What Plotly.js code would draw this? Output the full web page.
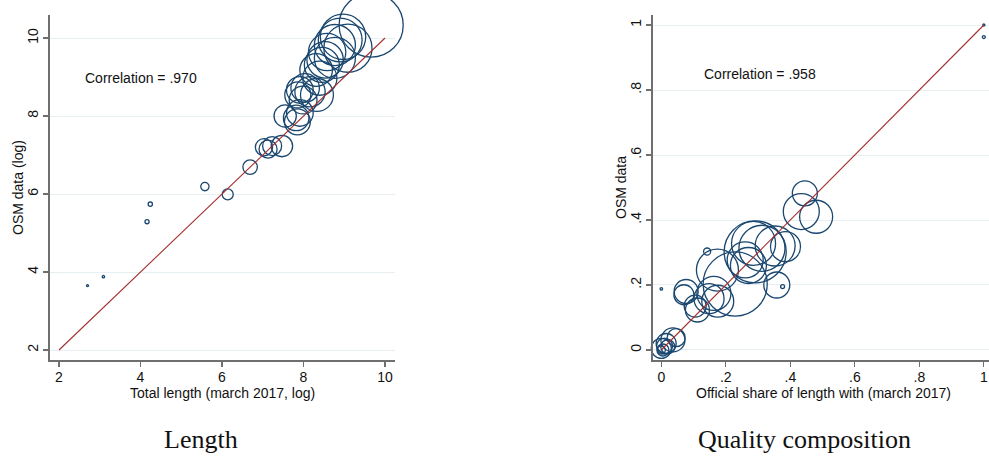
<!DOCTYPE html>
<html>
<head>
<meta charset="utf-8">
<script src="https://cdn.plot.ly/plotly-3.0.1.min.js"></script>
<style>
  html, body { margin: 0; padding: 0; background: #fff; overflow: hidden; }
  #chart { width: 989px; height: 457px; }
</style>
</head>
<body>
<div id="chart"></div>
<script>
// ---- Panel 1: network length, official vs OSM (both in logs) ----
const lengthOfficialLog = [2.70, 3.09, 4.16, 4.24, 5.58, 6.14, 6.69, 7.03, 7.13, 7.23,
  7.47, 7.55, 7.82, 7.85, 7.91, 7.91, 8.04, 7.86, 8.16, 8.33,
  7.99, 8.31, 8.45, 8.53, 8.40, 8.77, 8.58, 8.77, 8.90, 8.97,
  9.09, 9.66];
const lengthOsmLog = [3.65, 3.88, 5.29, 5.74, 6.19, 5.99, 6.69, 7.20, 7.15, 7.23,
  7.23, 8.00, 7.95, 7.85, 8.08, 8.67, 8.72, 8.54, 8.62, 8.54,
  8.41, 9.18, 9.31, 9.44, 8.97, 9.49, 9.64, 9.82, 9.95, 10.03,
  9.74, 10.33];
const lengthFitX = [2, 10];
const lengthFitY = [2, 10];
const lengthCorr = ".970";

// ---- Panel 2: quality composition (shares of length) ----
const qualityOfficial = [0.445, 0.434, 0.480, 0.291, 0.286, 0.312, 0.353, 0.385, 0.260, 0.270,
  0.358, 0.376, 0.142, 0.174, 0.229, 0.163, 0.148, 0.175, 0.077, 0.070,
  0.112, 0.105, 0.000, 0.000, 0.015, 0.036, 0.046, 0.005, 0.010, 0.020,
  0.000, 1.000, 1.000];
const qualityOsm = [0.482, 0.426, 0.410, 0.302, 0.328, 0.313, 0.320, 0.318, 0.277, 0.260,
  0.200, 0.195, 0.303, 0.246, 0.203, 0.174, 0.158, 0.150, 0.180, 0.170,
  0.123, 0.135, 0.188, 0.005, 0.020, 0.031, 0.038, 0.000, 0.012, 0.010,
  0.000, 0.963, 1.000];
// network length behind each share, thousand km (bubble weight)
const qualityWeight = [2.39, 4.95, 4.16, 14.7, 7.40, 8.10, 6.10, 3.44, 4.95, 4.95,
  2.58, 0.06, 0.19, 6.75, 15.7, 4.42, 3.44, 3.90, 2.20, 1.53,
  2.20, 1.85, 0.022, 1.53, 1.53, 2.20, 1.24, 0.55, 0.98, 0.75,
  0.245, 0.034, 0.015];
const qualityFitX = [0, 1];
const qualityFitY = [0, 1];
const qualityCorr = ".958";

const xTicksLen = [2, 4, 6, 8, 10];
const yTicksLen = [2, 4, 6, 8, 10];
const shareTicks = [0, 0.2, 0.4, 0.6, 0.8, 1];
const shareTickText = ["0", ".2", ".4", ".6", ".8", "1"];

// ---- styling ----
const W = 989, H = 457;
const navy = "#1a476f";
const fitRed = "#a3302f";
const axisGray = "#6f6f6f";
const gridCol = "#e7eff2";
const sans = "Liberation Sans, Arial, Helvetica, sans-serif";
const serif = "Liberation Serif, Times New Roman, serif";
const txt = 14;

// bubble area proportional to length (thousand km)
const refWeight = 15.65, refRadius = 32;
const diam = w => 2 * refRadius * Math.sqrt(w / refWeight);
const lengthWeight = lengthOfficialLog.map(v => Math.exp(v) / 1000);

const bubbleMarker = ws => ({
  symbol: "circle",
  size: ws.map(diam),
  sizemode: "diameter",
  opacity: 1,
  color: "rgba(0,0,0,0)",
  line: { color: navy, width: 1.3 }
});

const traces = [
  { type: "scatter", mode: "markers", x: lengthOfficialLog, y: lengthOsmLog,
    marker: bubbleMarker(lengthWeight), cliponaxis: false, xaxis: "x", yaxis: "y" },
  { type: "scatter", mode: "lines", x: lengthFitX, y: lengthFitY,
    line: { color: fitRed, width: 1.1 }, xaxis: "x", yaxis: "y" },
  { type: "scatter", mode: "markers", x: qualityOfficial, y: qualityOsm,
    marker: bubbleMarker(qualityWeight), cliponaxis: false, xaxis: "x2", yaxis: "y2" },
  { type: "scatter", mode: "lines", x: qualityFitX, y: qualityFitY,
    line: { color: fitRed, width: 1.1 }, xaxis: "x2", yaxis: "y2" }
];

const px = p => p / W;
const py = p => 1 - p / H;
const yDomain = [1 - 360 / H, 1 - 15 / H];

const axisBase = {
  showline: true, linecolor: axisGray, linewidth: 1.8,
  ticks: "outside", ticklen: 5, tickwidth: 1.3, tickcolor: axisGray,
  zeroline: false, fixedrange: true,
  tickfont: { family: sans, size: txt, color: "#111" }
};

const note = (text, x, y, extra) => Object.assign({
  text: text, xref: "paper", yref: "paper", x: px(x), y: py(y),
  xanchor: "center", yanchor: "middle", showarrow: false,
  font: { family: sans, size: txt, color: "#111" }
}, extra || {});

const layout = {
  width: W, height: H,
  margin: { l: 0, r: 0, t: 0, b: 0 },
  paper_bgcolor: "#fff", plot_bgcolor: "#fff",
  showlegend: false,
  xaxis: Object.assign({}, axisBase, {
    domain: [px(50), px(395)], range: [1.779, 10.245],
    tickvals: xTicksLen, showgrid: false, anchor: "y", ticklabelstandoff: -2
  }),
  yaxis: Object.assign({}, axisBase, {
    domain: yDomain, range: [1.744, 10.59],
    tickvals: yTicksLen, tickangle: -90,
    showgrid: true, gridcolor: gridCol, gridwidth: 1, anchor: "x"
  }),
  xaxis2: Object.assign({}, axisBase, {
    domain: [px(653), 1], range: [-0.0258, 1.016],
    tickvals: shareTicks, ticktext: shareTickText, showgrid: false, anchor: "y2",
    ticklabelstandoff: -2, ticklabeloverflow: "allow"
  }),
  yaxis2: Object.assign({}, axisBase, {
    domain: yDomain, range: [-0.0308, 1.0308],
    tickvals: shareTicks, ticktext: shareTickText, tickangle: -90,
    showgrid: true, gridcolor: gridCol, gridwidth: 1, anchor: "x2"
  }),
  annotations: [
    note("Correlation = " + lengthCorr, 83, 78, { xanchor: "left" }),
    note("Correlation = " + qualityCorr, 702, 74, { xanchor: "left" }),
    note("Total length (march 2017, log)", 222, 393),
    note("OSM data (log)", 18, 188, { textangle: -90 }),
    note("Official share of length with (march 2017)", 823, 393),
    note("OSM data", 621, 188, { textangle: -90 }),
    note("Length", 201, 439, { font: { family: serif, size: 26, color: "#111" } }),
    note("Quality composition", 804, 439, { font: { family: serif, size: 26, color: "#111" } })
  ]
};

Plotly.newPlot("chart", traces, layout, { displayModeBar: false, staticPlot: true });
</script>
</body>
</html>
